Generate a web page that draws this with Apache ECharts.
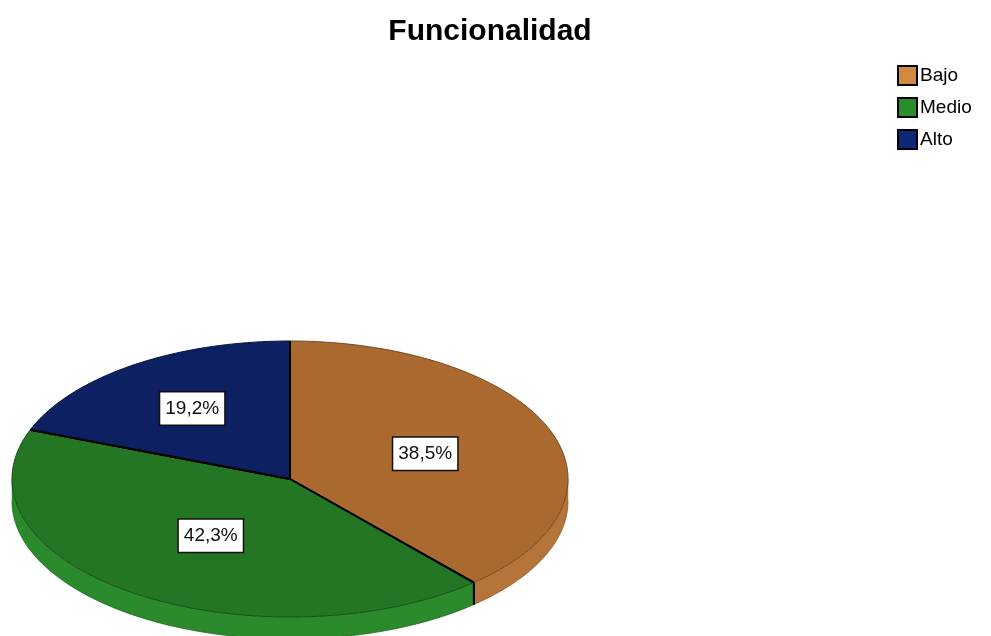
<!DOCTYPE html>
<html>
<head>
<meta charset="utf-8">
<script src="https://cdn.jsdelivr.net/npm/echarts@6/dist/echarts.min.js"></script>
<style>
  html, body { margin: 0; padding: 0; background: #fff; }
  #chart { width: 991px; height: 636px; }
</style>
</head>
<body>
<div id="chart"></div>
<script>
// Category names and their shares (percent)
const categories = ['Bajo', 'Medio', 'Alto'];
const percentages = [38.5, 42.3, 19.2];

// Palette: legend swatch, top face, side wall
const swatchColors = ['#d08a40', '#2a8c2a', '#0e2876'];
const topColors = ['#a9692f', '#247524', '#0d2062'];
const sideColors = ['#b4743a', '#2b8a2b', '#122a78'];
const edgeColors = ['#7a4a20', '#184f18', '#08143e'];

// Geometry of the tilted pie
const CX = 290, CY = 479, RX = 278, RY = 138, DEPTH = 22;
const labelRadius = [0.52, 0.5, 0.62];

const total = percentages.reduce((s, v) => s + v, 0);

function pt(deg, dy) {
  const t = deg * Math.PI / 180;
  return [CX + RX * Math.cos(t), CY + RY * Math.sin(t) + (dy || 0)];
}

function arcPoints(a0, a1, dy) {
  const pts = [];
  const steps = Math.max(4, Math.ceil(Math.abs(a1 - a0) / 1.5));
  for (let k = 0; k <= steps; k++) pts.push(pt(a0 + (a1 - a0) * k / steps, dy));
  return pts;
}

function fmt(v) {
  return v.toFixed(1).replace('.', ',') + '%';
}

function makeRender(idx) {
  return function (params, api) {
    const value = api.value(0);
    let before = 0;
    for (let k = 0; k < idx; k++) before += percentages[k];
    const start = -90 + 360 * before / total;
    const end = start + 360 * value / total;
    const children = [];

    // Side wall (visible front half: angles 0..180)
    const vs = Math.max(start, 0), ve = Math.min(end, 180);
    if (vs < ve) {
      const top = arcPoints(vs, ve, 0);
      const bottom = arcPoints(vs, ve, DEPTH).reverse();
      children.push({
        type: 'polygon',
        shape: { points: top.concat(bottom) },
        style: { fill: sideColors[idx], stroke: sideColors[idx], lineWidth: 0.5 }
      });
      children.push({
        type: 'polyline',
        shape: { points: arcPoints(vs, ve, DEPTH) },
        style: { fill: null, stroke: edgeColors[idx], lineWidth: 1, opacity: 0.5 }
      });
      [start, end].forEach(function (a) {
        if (a > 0 && a < 180) {
          const p0 = pt(a, 0), p1 = pt(a, DEPTH);
          children.push({
            type: 'line',
            shape: { x1: p0[0], y1: p0[1], x2: p1[0], y2: p1[1] },
            style: { stroke: '#000', lineWidth: 2 }
          });
        }
      });
    }

    // Top face
    const face = [[CX, CY]].concat(arcPoints(start, end, 0));
    children.push({
      type: 'polygon',
      shape: { points: face },
      style: { fill: topColors[idx], stroke: edgeColors[idx], lineWidth: 1 }
    });
    // Radial boundaries
    [start, end].forEach(function (a) {
      const p = pt(a, 0);
      children.push({
        type: 'line',
        shape: { x1: CX, y1: CY, x2: p[0], y2: p[1] },
        style: { stroke: '#000', lineWidth: 2 }
      });
    });

    // Value label
    const mid = (start + end) / 2 * Math.PI / 180;
    const f = labelRadius[idx];
    children.push({
      type: 'text',
      z2: 10,
      style: {
        text: fmt(value),
        x: CX + RX * f * Math.cos(mid),
        y: CY + RY * f * Math.sin(mid),
        align: 'center',
        verticalAlign: 'middle',
        font: '19px "Liberation Sans", Arial, sans-serif',
        fill: '#111',
        backgroundColor: '#fff',
        borderColor: '#111',
        borderWidth: 1.5,
        padding: [7, 5, 6, 5]
      }
    });

    return { type: 'group', children: children };
  };
}

const chart = echarts.init(document.getElementById('chart'), null, { renderer: 'canvas' });

chart.setOption({
  animation: false,
  backgroundColor: '#fff',
  title: {
    text: 'Funcionalidad',
    left: 485,
    textAlign: 'center',
    top: 12,
    textStyle: {
      fontFamily: '"Liberation Sans", Arial, sans-serif',
      fontWeight: 'bold',
      fontSize: 30,
      color: '#000'
    }
  },
  legend: {
    orient: 'vertical',
    left: 892,
    top: 60,
    itemWidth: 19,
    itemHeight: 19,
    itemGap: 11,
    icon: 'rect',
    selectedMode: false,
    data: categories,
    textStyle: {
      fontFamily: '"Liberation Sans", Arial, sans-serif',
      fontSize: 19,
      color: '#000',
      padding: [0, 0, 0, -2]
    }
  },
  series: categories.map(function (name, i) {
    return {
      type: 'custom',
      name: name,
      coordinateSystem: 'none',
      color: swatchColors[i],
      itemStyle: { color: swatchColors[i], borderColor: '#000', borderWidth: 1 },
      renderItem: makeRender(i),
      data: [[percentages[i]]]
    };
  })
});
</script>
</body>
</html>
